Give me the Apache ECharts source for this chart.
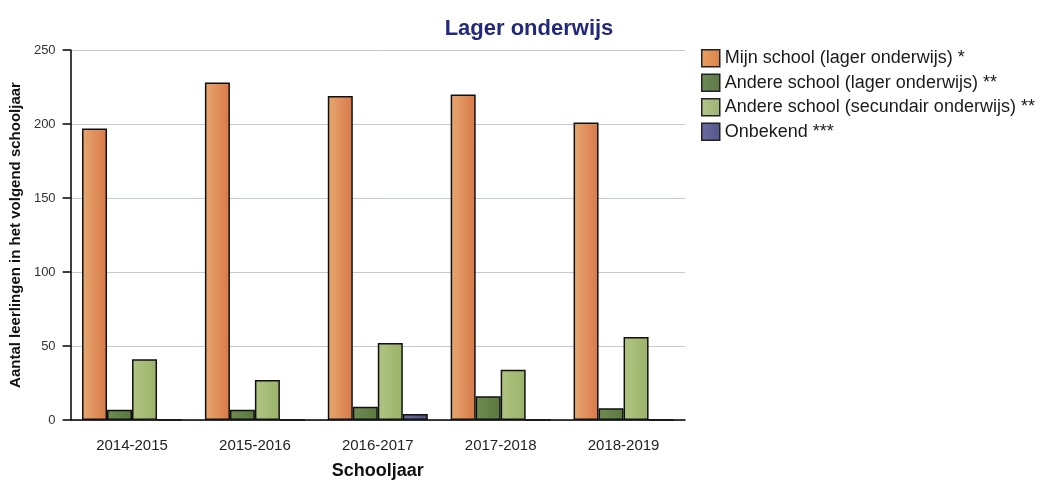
<!DOCTYPE html>
<html><head><meta charset="utf-8">
<script src="https://cdn.jsdelivr.net/npm/echarts@6/dist/echarts.min.js"></script>
<style>html,body{margin:0;padding:0;background:#fff}#c{width:1047px;height:485px}</style>
</head><body><div id="c"></div>
<script>
const categories = ['2014-2015','2015-2016','2016-2017','2017-2018','2018-2019'];
const mijnSchool = [197, 228, 219, 220, 201];
const andereLager = [7, 7, 9, 16, 8];
const andereSecundair = [41, 27, 52, 34, 56];
const onbekend = [0, 0, 4, 0, 0];
const seriesNames = ['Mijn school (lager onderwijs) *','Andere school (lager onderwijs) **','Andere school (secundair onderwijs) **','Onbekend ***'];
const yTicks = [0, 50, 100, 150, 200, 250];

function grad(a, b) {
  return new echarts.graphic.LinearGradient(0, 0, 1, 0, [{offset:0,color:a},{offset:1,color:b}]);
}
const colors = [grad('#e6a86e','#d8794a'), grad('#6f8d52','#5a7840'), grad('#b0c582','#9ab26a'), grad('#6a6a9c','#4f4f82')];
const legendColors = [grad('#eba062','#d9834a'), grad('#6f8a58','#5c7848'), grad('#b4c68a','#9cb272'), grad('#6c6ca0','#55558a')];
const font = '"Liberation Sans", Arial, sans-serif';
const datas = [mijnSchool, andereLager, andereSecundair, onbekend];

const chart = echarts.init(document.getElementById('c'));
chart.setOption({
  animation: false,
  backgroundColor: '#fff',
  title: { text: 'Lager onderwijs', left: 524, top: 13, textAlign: 'center',
    textStyle: { color: '#23287a', fontSize: 22, fontWeight: 'bold', fontFamily: font } },
  legend: {
    orient: 'vertical', left: 696, top: 44, itemWidth: 18, itemHeight: 17, itemGap: 6,
    textStyle: { fontSize: 18, lineHeight: 18, color: '#1a1a1a', fontFamily: font },
    data: seriesNames.map((n, i) => ({ name: n, icon: 'rect',
      itemStyle: { color: legendColors[i], borderColor: '#222', borderWidth: 1.5 } }))
  },
  grid: { left: 70, right: 362, top: 50, bottom: 61, containLabel: false },
  xAxis: {
    type: 'category', data: categories,
    name: 'Schooljaar', nameLocation: 'middle', nameGap: 42,
    nameTextStyle: { fontSize: 18, fontWeight: 'bold', color: '#111', fontFamily: font },
    axisLine: { lineStyle: { color: '#000', width: 1.5 } },
    axisTick: { alignWithLabel: true, length: 9, lineStyle: { color: '#000', width: 1.5 } },
    axisLabel: { fontSize: 15, color: '#222', margin: 18, fontFamily: font }
  },
  yAxis: {
    type: 'value', min: 0, max: 250, interval: 50,
    name: 'Aantal leerlingen in het volgend schooljaar', nameLocation: 'middle', nameGap: 44,
    nameTextStyle: { fontSize: 15, fontWeight: 'bold', color: '#111', fontFamily: font },
    axisLine: { show: true, lineStyle: { color: '#000', width: 1.5 } },
    axisTick: { show: true, length: 8, lineStyle: { color: '#000', width: 1.5 } },
    axisLabel: { fontSize: 13, color: '#333', margin: 15, fontFamily: font,
      formatter: v => yTicks.includes(v) ? String(v) : '' },
    splitLine: { lineStyle: { color: '#c3cad8', width: 1 } }
  },
  series: seriesNames.map((n, i) => ({
    name: n, type: 'bar', data: datas[i], barWidth: 25, barGap: '0%',
    itemStyle: { color: colors[i], borderColor: '#111', borderWidth: 1.5 }
  }))
});
</script></body></html>
